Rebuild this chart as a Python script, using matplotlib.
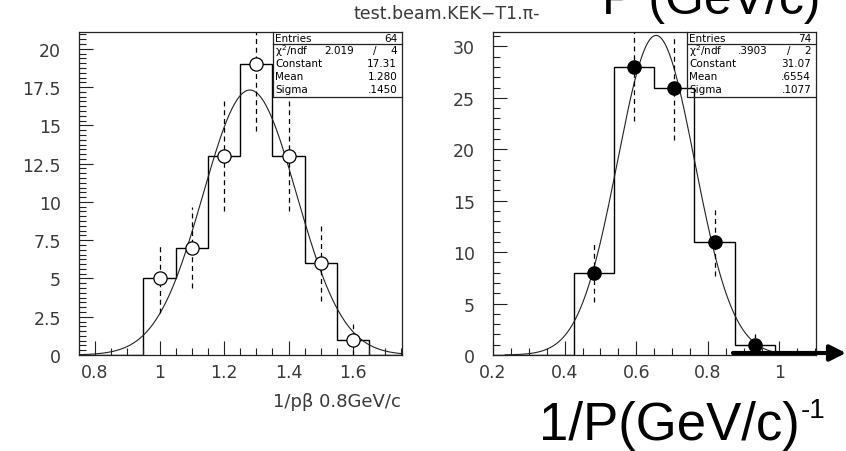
import numpy as np
import matplotlib
matplotlib.use("Agg")
import matplotlib.pyplot as plt
from matplotlib.ticker import MultipleLocator

# ---- data: left histogram (1/p beta at 0.8 GeV/c) ----
left_edges = [0.75, 0.85, 0.95, 1.05, 1.15, 1.25, 1.35, 1.45, 1.55, 1.65, 1.75]
left_counts = [0, 0, 5, 7, 13, 19, 13, 6, 1, 0]
left_pts_x = [1.0, 1.1, 1.2, 1.3, 1.4, 1.5, 1.6]
left_pts_y = [5, 7, 13, 19, 13, 6, 1]
left_fit = dict(const=17.31, mean=1.280, sigma=0.1450)
left_stats = [("Entries", "", "64"), ("χ$^2$/ndf", "2.019", "4"),
              ("Constant", "", "17.31"), ("Mean", "", "1.280"), ("Sigma", "", ".1450")]

# ---- data: right histogram (1/P) ----
right_edges = [0.2, 0.3125, 0.425, 0.5375, 0.65, 0.7625, 0.875, 0.9875, 1.1]
right_counts = [0, 0, 8, 28, 26, 11, 1, 0]
right_pts_x = [0.48125, 0.59375, 0.70625, 0.81875, 0.93125]
right_pts_y = [8, 28, 26, 11, 1]
right_fit = dict(const=31.07, mean=0.6554, sigma=0.1077)
right_stats = [("Entries", "", "74"), ("χ$^2$/ndf", ".3903", "2"),
               ("Constant", "", "31.07"), ("Mean", "", ".6554"), ("Sigma", "", ".1077")]

W, H = 846, 452
fig = plt.figure(figsize=(W / 100, H / 100), dpi=100)
fig.patch.set_facecolor("white")

TXT = "#3a3a3a"

def px(x, y):
    return x / W, 1 - y / H

def setup(ax, xlim, ylim, xmaj, xmin, ymaj, ymin):
    ax.set_xlim(*xlim)
    ax.set_ylim(*ylim)
    for s in ax.spines.values():
        s.set_linewidth(0.9)
        s.set_color("#222222")
    ax.xaxis.set_major_locator(MultipleLocator(xmaj))
    ax.xaxis.set_minor_locator(MultipleLocator(xmin))
    ax.yaxis.set_major_locator(MultipleLocator(ymaj))
    ax.yaxis.set_minor_locator(MultipleLocator(ymin))
    ax.tick_params(which="both", direction="in", top=False, right=False,
                   colors="#222222", labelcolor=TXT)
    ax.tick_params(axis="y", which="major", length=10, width=0.8, pad=13, labelsize=12.5)
    ax.tick_params(axis="y", which="minor", length=5, width=0.8)
    ax.tick_params(axis="x", which="major", length=10, width=0.8, pad=6, labelsize=12.5)
    ax.tick_params(axis="x", which="minor", length=5, width=0.8)
    ax.yaxis.set_major_formatter(lambda v, p: ("%g" % round(v, 3)))
    ax.xaxis.set_major_formatter(lambda v, p: ("%g" % round(v, 3)))

def stats_box(ax, rows):
    x0, y1, y0 = 0.60, 1.0, 0.80
    ax.plot([x0, x0, 1.0], [y1, y0, y0], transform=ax.transAxes, color="#222222",
            lw=0.9, clip_on=False)
    ysep = 0.963
    ax.plot([x0, 1.0], [ysep, ysep], transform=ax.transAxes, color="#222222", lw=0.9,
            clip_on=False)
    ycent = [0.982, 0.943, 0.903, 0.863, 0.823]
    for (lab, mid, val), yc in zip(rows, ycent):
        ax.text(x0 + 0.008, yc, lab, transform=ax.transAxes, fontsize=7.5, va="center",
                ha="left", color="black")
        ax.text(0.985, yc, val, transform=ax.transAxes, fontsize=7.5, va="center",
                ha="right", color="black")
        if mid:
            ax.text(0.85, yc, mid, transform=ax.transAxes, fontsize=7.5, va="center",
                    ha="right", color="black")
            ax.text(0.915, yc, "/", transform=ax.transAxes, fontsize=7.5, va="center",
                    ha="center", color="black")

def gauss(x, p):
    return p["const"] * np.exp(-0.5 * ((x - p["mean"]) / p["sigma"]) ** 2)

# ---- left panel ----
ax1 = fig.add_axes([79 / W, 1 - 356 / H, 323 / W, 323 / H])
setup(ax1, (0.75, 1.752), (0, 21.1), 0.2, 0.05, 2.5, 2.5 / 8)
ax1.stairs(left_counts, left_edges, color="black", lw=1.0)
xx = np.linspace(0.75, 1.75, 400)
ax1.plot(xx, gauss(xx, left_fit), color="#222222", lw=0.8)
err = np.sqrt(left_pts_y)
ax1.vlines(left_pts_x, np.array(left_pts_y) - err, np.array(left_pts_y) + err,
           colors="black", linestyles=(0, (4, 3)), lw=0.9)
ax1.plot(left_pts_x, left_pts_y, "o", ms=9.5, mfc="white", mec="black", mew=0.9,
         zorder=5)
stats_box(ax1, left_stats)

# ---- right panel ----
ax2 = fig.add_axes([493 / W, 1 - 356 / H, 323 / W, 323 / H])
setup(ax2, (0.2, 1.102), (0, 31.4), 0.2, 0.05, 5, 1)
ax2.stairs(right_counts, right_edges, color="black", lw=1.0)
xx2 = np.linspace(0.234, 1.0, 400)
ax2.plot(xx2, gauss(xx2, right_fit), color="#222222", lw=0.8)
err2 = np.sqrt(right_pts_y)
ax2.vlines(right_pts_x, np.array(right_pts_y) - err2, np.array(right_pts_y) + err2,
           colors="black", linestyles=(0, (4, 3)), lw=0.9)
ax2.plot(right_pts_x, right_pts_y, "o", ms=9.5, mfc="black", mec="black", zorder=5)
stats_box(ax2, right_stats)

# ---- texts ----
fig.text(*px(447, 14), "test.beam.KEK\u2212T1.\u03c0-", fontsize=12.5, ha="center",
         va="center", color=TXT)
fig.text(*px(401, 402), "1/p\u03b2 0.8GeV/c", fontsize=13, ha="right", va="center",
         color=TXT)
big = fig.text(*px(539, 440), "1/P(GeV/c)", fontsize=38, family="Liberation Sans",
               ha="left", va="baseline", color="black")
fig.canvas.draw()
bb = big.get_window_extent()
fig.text((bb.x1 + 1) / W, 1 - 418 / H, "-1", fontsize=20, family="Liberation Sans",
         ha="left", va="baseline", color="black")
fig.text(*px(602, 14), "P (GeV/c)", fontsize=36, family="Liberation Sans",
         ha="left", va="baseline", color="black")

# ---- arrow ----
fig.add_artist(matplotlib.patches.FancyArrowPatch(
    px(733, 354), px(846, 354), transform=fig.transFigure, arrowstyle="-|>",
    mutation_scale=24, lw=3, color="black", shrinkA=0, shrinkB=0))

fig.savefig("out.png", dpi=100)
